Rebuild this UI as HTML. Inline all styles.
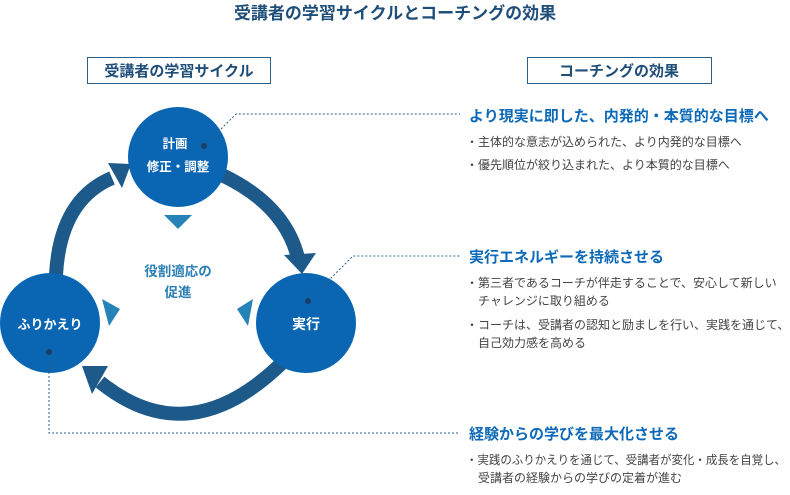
<!DOCTYPE html>
<html><head><meta charset="utf-8"><style>
body{margin:0;background:#fff;}
svg text{font-family:"Liberation Sans","Noto Sans CJK JP",sans-serif;}
</style></head><body>
<svg width="790" height="490" viewBox="0 0 790 490" xmlns="http://www.w3.org/2000/svg">
<text x="395" y="19" text-anchor="middle" font-size="17" font-weight="bold" fill="#1f4e79">受講者の学習サイクルとコーチングの効果</text>
<rect x="87.5" y="57.5" width="183" height="26" fill="#fff" stroke="#2c5f8a"/>
<text x="179" y="76" text-anchor="middle" font-size="15" font-weight="bold" fill="#1f4e79">受講者の学習サイクル</text>
<rect x="527.5" y="57.5" width="184" height="26" fill="#fff" stroke="#2c5f8a"/>
<text x="619" y="76" text-anchor="middle" font-size="15" font-weight="bold" fill="#1f4e79">コーチングの効果</text>

<g fill="none" stroke="#1d5a8a" stroke-width="14">
<path d="M222,175 Q285,205 298,258"/>
<path d="M285,360 Q190,455 100,382"/>
<path d="M56,275 Q60,200 112,178"/>
</g>
<g fill="#1d5a8a">
<polygon points="284,255 316,253 302,274"/>
<polygon points="108,366 92,394 82,366"/>
<polygon points="108,163 131,164 122,188"/>
</g>

<circle cx="178" cy="157" r="50" fill="#0a66b3"/>
<circle cx="306" cy="323" r="50" fill="#0a66b3"/>
<circle cx="50" cy="323" r="50" fill="#0a66b3"/>
<text x="175" y="148" text-anchor="middle" font-size="12.5" font-weight="bold" fill="#fff">計画</text>
<text x="178" y="171" text-anchor="middle" font-size="12.5" font-weight="bold" fill="#fff">修正・調整</text>
<text x="306" y="329" text-anchor="middle" font-size="14" font-weight="bold" fill="#fff">実行</text>
<text x="50" y="329" text-anchor="middle" font-size="13" font-weight="bold" fill="#fff">ふりかえり</text>

<g fill="#2583b8">
<polygon points="164,215 192,215 178,229"/>
<polygon points="102,299 120,309 109,326"/>
<polygon points="253,299 237,309 248,326"/>
</g>
<text x="178" y="276" text-anchor="middle" font-size="13.5" font-weight="bold" fill="#2a7fb5">役割適応の</text>
<text x="178" y="297" text-anchor="middle" font-size="13.5" font-weight="bold" fill="#2a7fb5">促進</text>

<g fill="none" stroke="#2c5f8a" stroke-width="1" stroke-dasharray="2,2">
<polyline points="204,146 236,114 460,114"/>
<polyline points="308,301 353,256 460,256"/>
<polyline points="49,352 49,433 460,433"/>
</g>
<g fill="#1a3f66">
<circle cx="204" cy="146" r="3"/>
<circle cx="308" cy="301" r="3"/>
<circle cx="49" cy="352" r="3"/>
</g>

<g font-size="15" font-weight="bold" fill="#0e6ab8">
<text x="469" y="121">より現実に即した、内発的・本質的な目標へ</text>
<text x="469" y="262">実行エネルギーを持続させる</text>
<text x="469" y="439">経験からの学びを最大化させる</text>
</g>
<g font-size="12" fill="#444">
<text x="466" y="146">・主体的な意志が込められた、より内発的な目標へ</text>
<text x="466" y="169">・優先順位が絞り込まれた、より本質的な目標へ</text>
<text x="466" y="287">・第三者であるコーチが伴走することで、安心して新しい</text>
<text x="478" y="305">チャレンジに取り組める</text>
<text x="466" y="329">・コーチは、受講者の認知と励ましを行い、実践を通じて、</text>
<text x="478" y="347">自己効力感を高める</text>
<text x="466" y="464" textLength="320" lengthAdjust="spacingAndGlyphs">・実践のふりかえりを通じて、受講者が変化・成長を自覚し、</text>
<text x="478" y="482">受講者の経験からの学びの定着が進む</text>
</g>
</svg>
</body></html>
